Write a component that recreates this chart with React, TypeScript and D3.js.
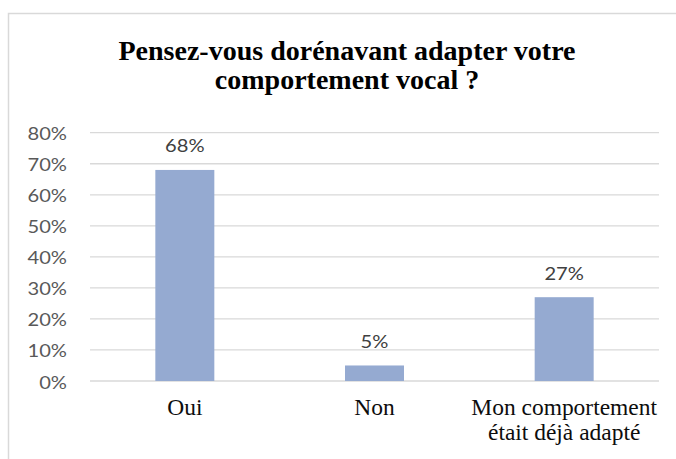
import React from "react";
import * as d3 from "d3";

const categories: string[][] = [["Oui"], ["Non"], ["Mon comportement", "était déjà adapté"]];
const categoryKeys: string[] = ["Oui", "Non", "Mon comportement était déjà adapté"];
const values: number[] = [0.68, 0.05, 0.27];
const valueLabels: string[] = ["68%", "5%", "27%"];
const yTicks: number[] = [0, 0.1, 0.2, 0.3, 0.4, 0.5, 0.6, 0.7, 0.8];
const titleLines: string[] = ["Pensez-vous dorénavant adapter votre", "comportement vocal ?"];

const W = 676;
const H = 459;

function STxt(props: {
  x: number;
  y: number;
  sx?: number;
  anchor?: string;
  children: React.ReactNode;
  fontFamily: string;
  fontSize: number;
  fill: string;
  bold?: boolean;
}) {
  const { x, y, sx = 1, anchor = "middle", children, fontFamily, fontSize, fill, bold } = props;
  const style: React.CSSProperties = { fontFamily: `"${fontFamily}"` };
  if (bold) style.fontWeight = 700;
  return (
    <text
      transform={`translate(${x},${y}) scale(${sx},1)`}
      textAnchor={anchor}
      fill={fill}
      fontSize={fontSize}
      style={style}
    >
      {children}
    </text>
  );
}

export default function App() {
  const plotLeft = 90;
  const plotRight = 659;
  const x = d3
    .scaleBand<string>()
    .domain(categoryKeys)
    .range([plotLeft, plotRight])
    .paddingInner(0.689)
    .paddingOuter(0.3445);
  const y = d3.scaleLinear().domain([0, 0.8]).range([381, 132.7]);
  const fmt = d3.format(".0%");

  const sans = "Lato";
  const serif = "Liberation Serif";

  return (
    <svg
      width={W}
      height={H}
      style={{ position: "absolute", left: 0, top: 0, background: "#fff" }}
    >
      <rect x={0} y={0} width={W} height={H} fill="#fff" />
      <rect x={8.5} y={13.5} width={760} height={520} fill="#fff" stroke="#d9d9d9" strokeWidth={1.5} />

      {titleLines.map((t, i) => (
        <STxt key={i} x={347} y={60 + i * 29} fontFamily={serif} fontSize={28} bold fill="#000">
          {t}
        </STxt>
      ))}

      {yTicks.map((t) => (
        <g key={t}>
          <line
            x1={plotLeft}
            x2={plotRight}
            y1={y(t)}
            y2={y(t)}
            stroke="#d9d9d9"
            strokeWidth={1.3}
          />
          <STxt
            x={67}
            y={y(t) + 7.5}
            sx={1.15}
            anchor="end"
            fontFamily={sans}
            fontSize={17.5}
            fill="#595959"
          >
            {fmt(t)}
          </STxt>
        </g>
      ))}

      {categoryKeys.map((c, i) => {
        const bx = x(c) as number;
        const bw = x.bandwidth();
        return (
          <g key={c}>
            <rect x={bx} y={y(values[i])} width={bw} height={y(0) - y(values[i])} fill="#95aad1" />
            <STxt
              x={bx + bw / 2}
              y={y(values[i]) - 17.5}
              sx={1.15}
              fontFamily={sans}
              fontSize={17.5}
              fill="#404040"
            >
              {valueLabels[i]}
            </STxt>
            {categories[i].map((line, j) => (
              <STxt
                key={j}
                x={bx + bw / 2}
                y={415 + j * 25}
                sx={1.02}
                fontFamily={serif}
                fontSize={23}
                fill="#0d0d0d"
              >
                {line}
              </STxt>
            ))}
          </g>
        );
      })}
    </svg>
  );
}
